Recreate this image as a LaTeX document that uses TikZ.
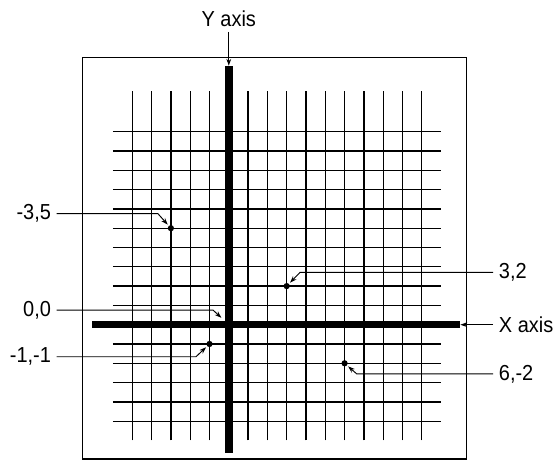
\documentclass[tikz,border=0pt]{standalone}
\usepackage{fontspec}
\setmainfont{Liberation Sans}[FakeStretch=0.92]
\usetikzlibrary{arrows.meta}
\begin{document}
\begin{tikzpicture}[x=0.5cm, y=0.5cm, >={Stealth[length=5pt,width=3.5pt]},
    gridline/.style={line width=1pt},
    axisline/.style={line width=5.5pt},
    lead/.style={->, line width=0.7pt},
    lbl/.style={font=\fontsize{16pt}{19pt}\selectfont, inner sep=4pt},
    dot/.style={circle, fill, inner sep=0pt, minimum size=4.6pt}]
        \useasboundingbox (-11.855,-7.01) rectangle (17.005,16.824);

        % Frame
        \draw[line width=0.8pt] (-7.57,-6.96) rectangle (12.33,13.83);

        % Grid
        \foreach \i in {-5,...,-1,1,2,...,10} {
            \draw[gridline] (\i,-6) -- (\i,12.1);
            \draw[gridline] (-6,\i) -- (11,\i);
        }

        % Axes
        \coordinate (xend) at (12,0);
        \coordinate (ytop) at (0,13.42);
        \coordinate (origin) at (0,0);
        \draw[axisline] (-7.07,0) -- (xend);
        \draw[axisline] (0,-6.63) -- (ytop);

        % Points
        \node[dot] (pA) at (-3,5) {};
        \node[dot] (pB) at (3,2) {};
        \node[dot] (pC) at (-1,-1) {};
        \node[dot] (pD) at (6,-2) {};

        % Labels
        \node[lbl, anchor=south] (ylab) at (0,15.17) {Y axis};
        \node[lbl, anchor=west] (xlab) at (13.70,0) {X axis};
        \node[lbl, anchor=east] (labA) at (-8.92,5.75) {-3,5};
        \node[lbl, anchor=east] (labO) at (-8.92,0.76) {0,0};
        \node[lbl, anchor=east] (labC) at (-8.92,-1.66) {-1,-1};
        \node[lbl, anchor=west] (labB) at (13.70,2.71) {3,2};
        \node[lbl, anchor=west] (labD) at (13.70,-2.55) {6,-2};

        % Connections
        \draw[lead] (ylab.south) -- (ytop);
        \draw[lead] (xlab.west) -- (xend);
        \draw[lead, shorten >=1pt] (labA.east) -- (-3.67,5.75) -- (pA);
        \draw[lead, shorten >=7.5pt] (labO.east) -- (-0.82,0.76) -- (origin);
        \draw[lead, shorten >=1pt] (labC.east) -- (-1.70,-1.66) -- (pC);
        \draw[lead, shorten >=1pt] (labB.west) -- (3.69,2.71) -- (pB);
        \draw[lead, shorten >=1pt] (labD.west) -- (6.63,-2.55) -- (pD);
    \end{tikzpicture}
\end{document}
